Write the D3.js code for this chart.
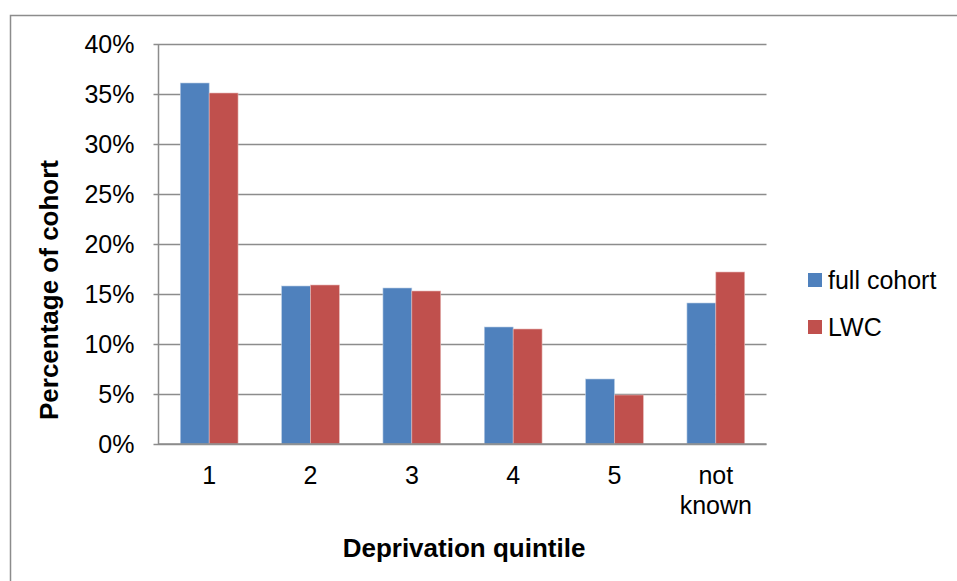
<!DOCTYPE html>
<html>
<head>
<meta charset="utf-8">
<script src="https://cdn.jsdelivr.net/npm/d3@7"></script>
<style>
  html, body { margin: 0; padding: 0; background: #fff; }
  svg { display: block; font-family: "Liberation Sans", Arial, sans-serif; }
</style>
</head>
<body>
<svg id="chart" width="957" height="581"></svg>
<script>
const categories = ["1", "2", "3", "4", "5", "not known"];
const seriesNames = ["full cohort", "LWC"];
const fullCohort = [36.1, 15.8, 15.6, 11.7, 6.5, 14.1];
const lwc = [35.1, 15.9, 15.3, 11.5, 4.9, 17.2];
const yTicks = [0, 5, 10, 15, 20, 25, 30, 35, 40];
const colors = ["#4F81BD", "#C0504D"];
const xTitle = "Deprivation quintile";
const yTitle = "Percentage of cohort";

(function () {
const svg = d3.select("#chart");
const pLeft = 158.5, pRight = 766.5, pTop = 44, pBottom = 444;

// chart border
svg.append("rect").attr("x", 10.5).attr("y", 15.5).attr("width", 980).attr("height", 600)
  .attr("fill", "none").attr("stroke", "#8c8c8c").attr("stroke-width", 1.5);

const x = d3.scaleBand().domain(categories).range([pLeft, pRight]).paddingInner(0.43).paddingOuter(0.215);
const xs = d3.scaleBand().domain(seriesNames).range([0, x.bandwidth()]);
const y = d3.scaleLinear().domain([0, 40]).range([pBottom, pTop]);

// gridlines
const yAxis = d3.axisLeft(y).tickValues(yTicks).tickSize(-(pRight - pLeft)).tickFormat(d => d + "%").tickPadding(24);
const gy = svg.append("g").attr("transform", `translate(${pLeft},0)`).call(yAxis);
gy.select(".domain").remove();
gy.selectAll(".tick line").attr("stroke", "#8c8c8c").attr("stroke-width", 1.5).attr("x1", -5);
gy.selectAll(".tick text").attr("font-size", 25).attr("fill", "#000").attr("x", -24)
  .attr("font-family", "'Liberation Sans', Arial, sans-serif");

// left axis line
svg.append("line").attr("x1", pLeft).attr("x2", pLeft).attr("y1", pTop).attr("y2", pBottom)
  .attr("stroke", "#8c8c8c").attr("stroke-width", 1.5);

// bars
const series = [fullCohort, lwc];
const g = svg.append("g");
series.forEach((vals, si) => {
  g.selectAll(null).data(vals).enter().append("rect")
    .attr("x", (d, i) => x(categories[i]) + xs(seriesNames[si]))
    .attr("y", d => y(d))
    .attr("width", xs.bandwidth())
    .attr("height", d => y(0) - y(d))
    .attr("fill", colors[si])
    .attr("stroke", si === 0 ? "#b9cde5" : "#e6b9b8")
    .attr("stroke-width", 0.6);
});

// bottom axis line
svg.append("line").attr("x1", pLeft).attr("x2", pRight).attr("y1", pBottom).attr("y2", pBottom)
  .attr("stroke", "#8c8c8c").attr("stroke-width", 1.5);

// x labels
const xl = svg.append("g");
categories.forEach(c => {
  const words = c.split(" ");
  const cx = x(c) + x.bandwidth() / 2;
  const t = xl.append("text").attr("text-anchor", "middle").attr("font-size", 25).attr("fill", "#000")
    .attr("x", cx).attr("y", 484);
  words.forEach((w, i) => {
    t.append("tspan").attr("x", cx).attr("dy", i === 0 ? 0 : 30).text(w);
  });
});

// axis titles
svg.append("text").attr("x", 464).attr("y", 557).attr("text-anchor", "middle")
  .attr("font-size", 26).attr("font-weight", "bold").text(xTitle);
svg.append("text").attr("transform", "translate(58,290) rotate(-90)").attr("text-anchor", "middle")
  .attr("font-size", 26).attr("font-weight", "bold").text(yTitle);

// legend
const lg = svg.append("g");
seriesNames.forEach((s, i) => {
  const cy = 280 + i * 47;
  lg.append("rect").attr("x", 808).attr("y", cy - 7).attr("width", 14).attr("height", 14).attr("fill", colors[i]);
  lg.append("text").attr("x", 828).attr("y", cy + 9).attr("font-size", 25).attr("fill", "#000").text(s);
});
})();
</script>
</body>
</html>
